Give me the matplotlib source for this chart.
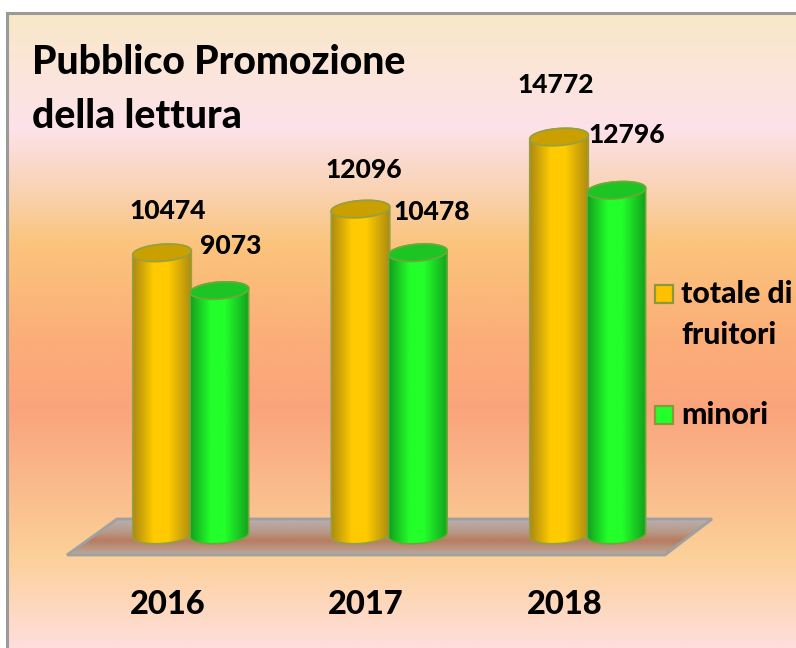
import numpy as np
import matplotlib
matplotlib.use("Agg")
import matplotlib.pyplot as plt
from matplotlib.colors import LinearSegmentedColormap
from matplotlib.patches import Polygon, Rectangle, PathPatch
from matplotlib.path import Path
from matplotlib.transforms import Affine2D

years = ["2016", "2017", "2018"]
totale = [10474, 12096, 14772]
minori = [9073, 10478, 12796]
series_names = ["totale di\nfruitori", "minori"]
title = "Pubblico Promozione\ndella lettura"

plt.rcParams["font.family"] = ["Lato", "DejaVu Sans"]
WEIGHT = 900
W, H = 796, 648
fig = plt.figure(figsize=(W / 100, H / 100), dpi=100, facecolor="white")
px = Affine2D().scale(1 / W, -1 / H).translate(0, 1) + fig.transFigure

# value axis: value 0 sits at pixel y=535; category spacing 198.5 px
PX_Y, BASE_Y = 0.02694, 535
PX_X, ORIG_X = 198.5, 191
ax = fig.add_axes([0, 0, 1, 1])
ax.axis("off")


def set_limits():
    ax.set_xlim(-ORIG_X / PX_X, (W - ORIG_X) / PX_X)
    ax.set_ylim((BASE_Y - H) / PX_Y, BASE_Y / PX_Y)


# background
fx0, fy0, fx1, fy1 = 7, 13, 796, 648
stops = [(0.00, "#f9e8c8"), (0.18, "#fde2ea"), (0.27, "#f9d4b8"), (0.364, "#fbc47c"),
         (0.51, "#fbae78"), (0.625, "#fba47c"), (0.753, "#fabc8c"), (0.855, "#fcd098"),
         (1.00, "#ffdedc")]
bg_cmap = LinearSegmentedColormap.from_list("bg", stops)
grad = np.linspace(0, 1, 512).reshape(-1, 1)
ax.imshow(grad, cmap=bg_cmap, aspect="auto", zorder=0, transform=px,
          extent=(fx0, fx1, fy1, fy0), origin="upper")
ax.plot([fx0, fx0, fx1], [fy1, fy0, fy0], transform=px, color="#9a9a9a", linewidth=2.2,
        zorder=1, solid_joinstyle="miter")

# floor
floor_pts = [(117, 519), (712, 519), (665, 555), (67, 555)]
floor_cmap = LinearSegmentedColormap.from_list(
    "floor", [(0, "#b8b0b4"), (0.35, "#b89a88"), (0.60, "#b87c60"), (1, "#b8aca0")])
im = ax.imshow(grad, cmap=floor_cmap, aspect="auto", zorder=2, transform=px,
               extent=(67, 712, 555, 519), origin="upper")
poly = Polygon(floor_pts, closed=True, transform=px, fill=False, edgecolor="#a0a0a0",
               linewidth=2, zorder=3)
ax.add_patch(poly)
im.set_clip_path(poly)


def ellipse_pts(xc, yc, w, t0=0.0, t1=2 * np.pi, n=60):
    t = np.linspace(t0, t1, n)
    ex = xc + w / 2 * np.cos(t)
    # half height 8.5 px, tilted upward to the right
    ey = yc + (8.5 * np.sin(t) + 0.07 * (ex - xc) * PX_X) / PX_Y
    return np.column_stack([ex, ey])


def cylinder(bar, edge_dark, mid, top_col, line, z):
    x0, w, h = bar.get_x(), bar.get_width(), bar.get_height()
    xc = x0 + w / 2
    low = ellipse_pts(xc, 0, w, np.pi, 2 * np.pi)
    top_r = ellipse_pts(xc, h, w, 0, np.pi)
    verts = np.vstack([low, top_r, low[:1]])
    path = Path(verts, closed=True)
    cm = LinearSegmentedColormap.from_list(
        "c", [(0, edge_dark), (0.35, mid), (0.60, mid), (1, edge_dark)])
    g = ax.imshow(np.linspace(0, 1, 128).reshape(1, -1), cmap=cm, aspect="auto", zorder=z,
                  extent=(x0, x0 + w, -12 / PX_Y, h + 12 / PX_Y), origin="lower")
    patch = PathPatch(path, fill=False, edgecolor=line, linewidth=1.2, zorder=z + 0.1)
    ax.add_patch(patch)
    g.set_clip_path(patch)
    top = Polygon(ellipse_pts(xc, h, w), closed=True, facecolor=top_col,
                  edgecolor=line, linewidth=1.2, zorder=z + 0.2)
    ax.add_patch(top)


x = np.arange(len(years))
bw = 0.295
bars1 = ax.bar(x - 0.146, totale, bw, color="none", zorder=4)
bars2 = ax.bar(x + 0.143, minori, bw, color="none", zorder=4)
for i, (b1, b2) in enumerate(zip(bars1, bars2)):
    cylinder(b1, "#ad8a10", "#ffcb00", "#c9a000", "#96a040", 5 + i)
    cylinder(b2, "#14a01e", "#22ff2a", "#1cc424", "#70a838", 5.5 + i)
set_limits()

txt = dict(transform=px, va="center", fontweight=WEIGHT, color="black", zorder=20)

# value labels
label_pos_total = [(168, 211), (364, 170), (556, 85)]
label_pos_minor = [(231, 246), (432, 212), (627, 135)]
for i in range(3):
    ax.text(*label_pos_total[i], str(totale[i]), ha="center", fontsize=19, **txt)
    ax.text(*label_pos_minor[i], str(minori[i]), ha="center", fontsize=19, **txt)

# category labels
for xc, y in zip([168, 366, 565], years):
    ax.text(xc, 604, y, ha="center", fontsize=23.5, **txt)

# title
t1, t2 = title.split("\n")
ax.text(32, 63, t1, ha="left", fontsize=28.2, **txt)
ax.text(32, 116, t2, ha="left", fontsize=28.2, **txt)

# legend
ax.add_patch(Rectangle((655, 285), 18, 18, transform=px, facecolor="#ffc000",
                       edgecolor="#8a9a3a", linewidth=1.6, zorder=20))
ax.add_patch(Rectangle((655, 406), 18, 18, transform=px, facecolor="#22ff2a",
                       edgecolor="#8a9a3a", linewidth=1.6, zorder=20))
n1, n2 = series_names[0].split("\n")
ax.text(681, 294, n1, ha="left", fontsize=21.7, **txt)
ax.text(681, 335, n2, ha="left", fontsize=21.7, **txt)
ax.text(681, 415, series_names[1], ha="left", fontsize=21.7, **txt)

fig.savefig("out.png", dpi=100, facecolor="white")
